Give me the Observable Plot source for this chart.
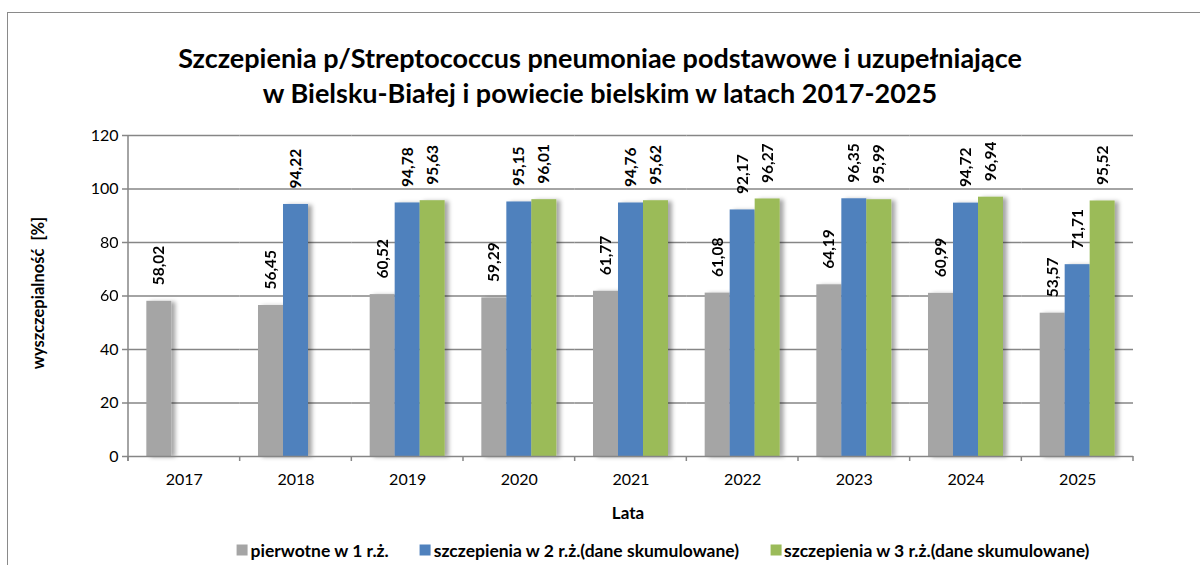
<!DOCTYPE html>
<html>
<head>
<meta charset="utf-8">
<script src="https://cdn.jsdelivr.net/npm/d3@7"></script>
<script src="https://cdn.jsdelivr.net/npm/@observablehq/plot@0.6"></script>
<style>
  html, body { margin: 0; padding: 0; background: #fff; width: 1200px; height: 565px; overflow: hidden; }
  body { position: relative; font-family: Lato, "Open Sans", sans-serif; color: #000; }
  #frame { position: absolute; left: 7px; top: 12px; width: 1400px; height: 700px; border: 1.5px solid #8a8a8a; box-sizing: border-box; }
  #title { position: absolute; top: 40px; left: 0; width: 1200px; text-align: center; font-weight: bold; font-size: 27px; line-height: 35px; }
  #chart { position: absolute; top: 115px; left: 0; }
  #ylabel { position: absolute; left: 38px; top: 293px; transform: translate(-50%, -50%) rotate(-90deg); font-weight: bold; font-size: 16.5px; white-space: pre; }
  #xlabel { position: absolute; left: 628px; top: 512px; transform: translate(-50%, -50%); font-weight: bold; font-size: 17px; }
  #legend { position: absolute; left: 663px; top: 550px; transform: translate(-50%, -50%); display: flex; gap: 31px; font-weight: bold; font-size: 17.5px; white-space: nowrap; }
  #legend .item { display: flex; align-items: center; gap: 3px; }
  #legend .sw { width: 11px; height: 11px; display: inline-block; }
</style>
</head>
<body>
<div id="frame"></div>
<div id="title"></div>
<div id="chart"></div>
<div id="ylabel"></div>
<div id="xlabel"></div>
<div id="legend"></div>
<script>
const titleLines = ["Szczepienia p/Streptococcus pneumoniae podstawowe i uzupełniające", "w Bielsku-Białej i powiecie bielskim w latach 2017-2025"];
const yLabel = "wyszczepialność  [%]";
const xLabel = "Lata";
const years = ["2017", "2018", "2019", "2020", "2021", "2022", "2023", "2024", "2025"];
const seriesNames = ["pierwotne w 1 r.ż.", "szczepienia w 2 r.ż.(dane skumulowane)", "szczepienia w 3 r.ż.(dane skumulowane)"];
const colors = ["#A5A5A5", "#4F81BD", "#9BBB59"];
const s1 = [58.02, 56.45, 60.52, 59.29, 61.77, 61.08, 64.19, 60.99, 53.57];
const s2 = [null, 94.22, 94.78, 95.15, 94.76, 92.17, 96.35, 94.72, 71.71];
const s3 = [null, null, 95.63, 96.01, 95.62, 96.27, 95.99, 96.94, 95.52];
const yTicks = [0, 20, 40, 60, 80, 100, 120];

const seriesValues = [s1, s2, s3];
const rows = [];
years.forEach((yr, i) => {
  seriesValues.forEach((arr, k) => {
    if (arr[i] != null) rows.push({year: yr, series: seriesNames[k], value: arr[i]});
  });
});
const fmt = v => d3.format(".2f")(v).replace(".", ",");

document.getElementById("title").innerHTML = titleLines.join("<br>");
document.getElementById("ylabel").textContent = yLabel;
document.getElementById("xlabel").textContent = xLabel;
const leg = document.getElementById("legend");
seriesNames.forEach((n, k) => {
  const it = document.createElement("div");
  it.className = "item";
  const sw = document.createElement("span");
  sw.className = "sw";
  sw.style.background = colors[k];
  const t = document.createElement("span");
  t.textContent = n;
  it.appendChild(sw); it.appendChild(t);
  leg.appendChild(it);
});

const W = 1200, H = 410;
const grid = "#868686";
const chart = Plot.plot({
  width: W, height: H,
  marginLeft: 128, marginRight: 67, marginTop: 20, marginBottom: 69,
  style: {fontFamily: "Lato, 'Open Sans', sans-serif", fontSize: "16px", color: "#000", background: "transparent", overflow: "visible"},
  fx: {domain: years, padding: 0, round: false, label: null},
  x: {domain: seriesNames, paddingInner: 0, paddingOuter: 0.734, round: false, axis: null},
  y: {domain: [0, 120], label: null},
  color: {domain: seriesNames, range: colors},
  marks: [
    Plot.ruleY(yTicks.filter(t => t > 0), {stroke: grid, strokeWidth: 1.5}),
    Plot.barY(rows, {fx: "year", x: "series", y: "value", fill: "series"}),
    Plot.ruleY([0], {stroke: grid, strokeWidth: 1.5}),
    Plot.text(rows, {fx: "year", x: "series", y: "value", text: d => fmt(d.value), rotate: -90, textAnchor: "start", dy: -16, fontWeight: "bold", fontSize: 15.5, fill: "#000"}),
    Plot.axisY({ticks: yTicks, tickSize: 6, tickPadding: 4, stroke: grid, strokeWidth: 1.5, label: null, fontSize: 16}),
    Plot.axisFx({anchor: "bottom", tickSize: 0, tickPadding: 17, label: null, fontSize: 16})
  ]
});
document.getElementById("chart").appendChild(chart);

// drop shadow on bars
const svg = d3.select(chart.tagName.toLowerCase() === "svg" ? chart : chart.querySelector("svg"));
const defs = svg.insert("defs", ":first-child");
const f = defs.append("filter").attr("id", "barShadow").attr("x", "-20%").attr("y", "-5%").attr("width", "160%").attr("height", "115%");
f.append("feDropShadow").attr("dx", 4).attr("dy", 1).attr("stdDeviation", 2.2).attr("flood-color", "#000").attr("flood-opacity", 0.35);
svg.selectAll('g[aria-label="bar"]').attr("filter", "url(#barShadow)");

// axis line and category boundary ticks from the library's scales
const fx = chart.scale("fx"), y = chart.scale("y");
const y0 = y.apply(0), yTop = y.apply(120);
const bounds = years.map(d => fx.apply(d)).concat([fx.apply(years[years.length - 1]) + fx.bandwidth]);
const g = svg.append("g").attr("stroke", grid).attr("stroke-width", 1.5);
g.append("line").attr("x1", bounds[0]).attr("x2", bounds[0]).attr("y1", yTop).attr("y2", y0 + 5);
bounds.forEach(b => g.append("line").attr("x1", b).attr("x2", b).attr("y1", y0).attr("y2", y0 + 5));
</script>
</body>
</html>
